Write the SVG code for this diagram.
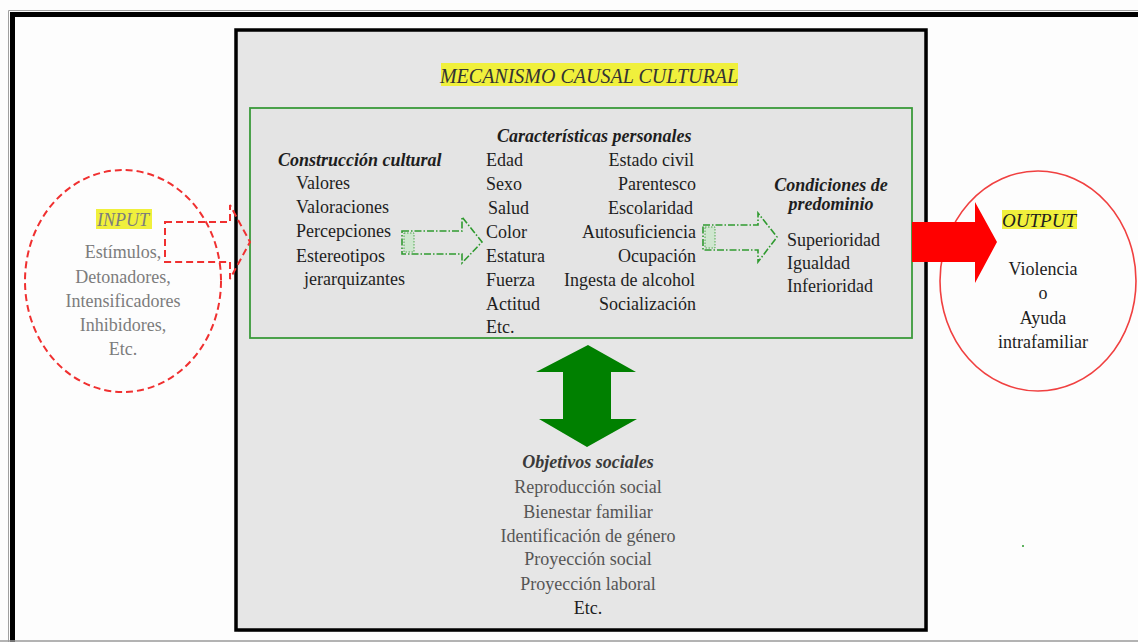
<svg xmlns="http://www.w3.org/2000/svg" width="1138" height="642" viewBox="0 0 1138 642">
<defs>
<style>
text{font-family:"Liberation Serif","Times New Roman",serif;font-size:18px;fill:#1e1e1e}
.bi{font-weight:bold;font-style:italic}
.it{font-style:italic}
.gray{fill:#7c7c7c}
.dgray{fill:#555}
.mid{text-anchor:middle}
.end{text-anchor:end}
.hl{fill:#f0f03c}
.garrow{fill:none;stroke:#2f9a2f;stroke-width:1.6;stroke-dasharray:7 2 1.5 2}
</style>
</defs>
<rect x="0" y="0" width="1138" height="642" fill="#fdfdfd"/>
<g id="frame">
<path d="M8.5 1142 V10.5 H1150" fill="none" stroke="#a0a0a0" stroke-width="1"/>
<rect x="12.5" y="14.5" width="1140" height="700" fill="#fdfdfd" stroke="#000" stroke-width="5"/>
<line x1="0" y1="641" x2="1138" y2="641" stroke="#9a9a9a" stroke-width="1.5"/>
</g>
<g id="mecanismo">
<rect x="238" y="32" width="690" height="600" fill="#c8c8c8" opacity="0.6"/>
<rect x="236" y="30" width="690" height="600" fill="#e6e6e6" stroke="#000" stroke-width="3.5"/>
<rect x="441" y="63" width="297" height="23" class="hl"/>
<text x="589" y="83" class="it mid" style="font-size:20px;fill:#333">MECANISMO CAUSAL CULTURAL</text>
</g>
<g id="caja-verde">
<rect x="250" y="108" width="662" height="230" fill="#e4e4e4" stroke="#3a9a3a" stroke-width="1.8"/>
</g>
<g id="construccion">
<text x="278" y="166" class="bi">Construcción cultural</text>
<text x="296" y="189">Valores</text>
<text x="296" y="213">Valoraciones</text>
<text x="296" y="237">Percepciones</text>
<text x="296" y="262">Estereotipos</text>
<text x="304" y="285">jerarquizantes</text>
</g>
<g id="caracteristicas">
<text x="497" y="142" class="bi">Características personales</text>
<text x="486" y="166">Edad</text>
<text x="486" y="190">Sexo</text>
<text x="488" y="214">Salud</text>
<text x="486" y="238">Color</text>
<text x="486" y="262">Estatura</text>
<text x="486" y="286">Fuerza</text>
<text x="486" y="310">Actitud</text>
<text x="486" y="333">Etc.</text>
<text x="694" y="166" class="end">Estado civil</text>
<text x="696" y="190" class="end">Parentesco</text>
<text x="693" y="214" class="end">Escolaridad</text>
<text x="696" y="238" class="end">Autosuficiencia</text>
<text x="696" y="262" class="end">Ocupación</text>
<text x="695" y="286" class="end">Ingesta de alcohol</text>
<text x="696" y="310" class="end">Socialización</text>
</g>
<g id="condiciones">
<text x="831" y="191" class="bi mid">Condiciones de</text>
<text x="831" y="210" class="bi mid">predominio</text>
<text x="787" y="246">Superioridad</text>
<text x="787" y="269">Igualdad</text>
<text x="787" y="292">Inferioridad</text>
</g>
<g id="input">
<ellipse cx="123" cy="281" rx="98" ry="111" fill="none" stroke="#f03030" stroke-width="2" stroke-dasharray="7 4"/>
<rect x="96" y="209" width="56" height="20" class="hl"/>
<text x="123" y="226" class="it mid gray">INPUT</text>
<text x="123" y="258" class="mid gray">Estímulos,</text>
<text x="123" y="283" class="mid gray">Detonadores,</text>
<text x="123" y="307" class="mid gray">Intensificadores</text>
<text x="123" y="331" class="mid gray">Inhibidores,</text>
<text x="123" y="355" class="mid gray">Etc.</text>
</g>
<g id="output">
<ellipse cx="1038" cy="281" rx="98" ry="110" fill="#fdfdfd" stroke="#f04040" stroke-width="1.6"/>
<rect x="1002" y="210" width="75" height="19" class="hl"/>
<text x="1039" y="227" class="it mid" style="font-size:19px">OUTPUT</text>
<text x="1043" y="275" class="mid">Violencia</text>
<text x="1043" y="299" class="mid">o</text>
<text x="1043" y="324" class="mid">Ayuda</text>
<text x="1043" y="348" class="mid">intrafamiliar</text>
</g>
<g id="objetivos">
<text x="588" y="468" class="bi mid" style="fill:#3a3a3a">Objetivos sociales</text>
<text x="588" y="493" class="mid dgray">Reproducción social</text>
<text x="588" y="518" class="mid dgray">Bienestar familiar</text>
<text x="588" y="542" class="mid dgray">Identificación de género</text>
<text x="588" y="565" class="mid dgray">Proyección social</text>
<text x="588" y="590" class="mid dgray">Proyección laboral</text>
<text x="588" y="614" class="mid">Etc.</text>
</g>
<g id="conectores">
<polygon points="165,222 230,222 230,205 250,242 230,279 230,262 165,262" fill="none" stroke="#f03030" stroke-width="2" stroke-dasharray="7 4"/>
<polygon class="garrow" points="402,231 462,231 462,217 482,242 462,263 462,254 402,254"/>
<rect x="404" y="233" width="10" height="19" fill="#cfe6cf" stroke="#2f9a2f" stroke-width="0.8" stroke-dasharray="1.5 1.5"/>
<polygon class="garrow" points="703,225 758,225 758,213 777,237 758,262 758,250 703,250"/>
<rect x="705" y="227" width="10" height="21" fill="#cfe6cf" stroke="#2f9a2f" stroke-width="0.8" stroke-dasharray="1.5 1.5"/>
<polygon points="912,222 975,222 975,202 997,242 975,283 975,262 912,262" fill="#ff0000"/>
<polygon points="588,345 636,372 611,372 611,419 637,419 587,447 539,419 563,419 563,372 536,372" fill="#008000"/>
<circle cx="1023" cy="546" r="1" fill="#2a9a2a"/>
</g>
</svg>
